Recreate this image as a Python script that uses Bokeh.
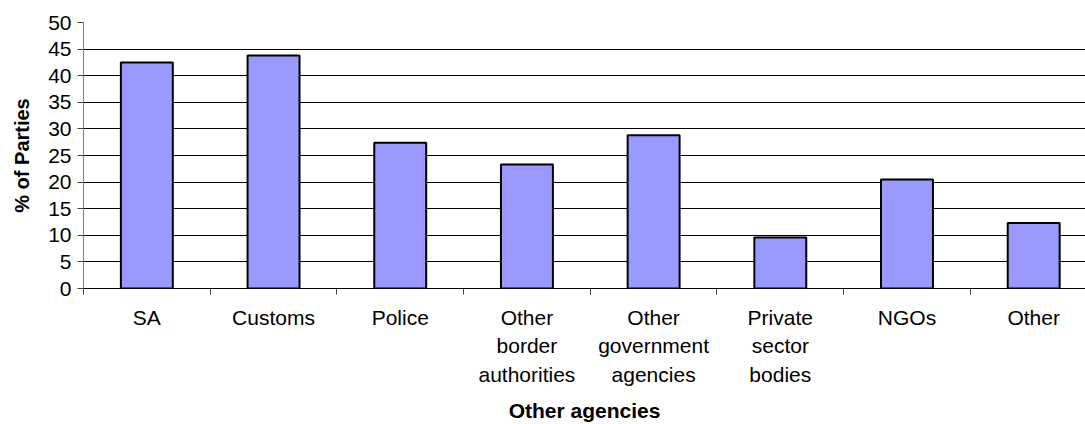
from bokeh.plotting import figure
from bokeh.models import Range1d, FixedTicker
from bokeh.embed import file_html
from bokeh.resources import INLINE

categories = ["SA", "Customs", "Police", "Other\nborder\nauthorities",
              "Other\ngovernment\nagencies", "Private\nsector\nbodies", "NGOs", "Other"]
values = [42.5, 43.8, 27.4, 23.3, 28.8, 9.6, 20.5, 12.3]
y_ticks = [0, 5, 10, 15, 20, 25, 30, 35, 40, 45, 50]
x_title = "Other agencies"
y_title = "% of Parties"

n = len(categories)
centers = [i + 0.5 for i in range(n)]
bounds = list(range(n + 1))

FONT = "Liberation Sans"

p = figure(width=1085, height=424, output_backend="svg", toolbar_location=None,
           x_range=Range1d(0, 7.909), y_range=Range1d(0, 50),
           min_border_left=83, min_border_top=22, min_border_bottom=135,
           min_border_right=0)

p.vbar(x=centers, top=values, width=0.41, fill_color="#9999FF",
       line_color="black", line_width=2)

p.outline_line_color = None
p.background_fill_color = "white"
p.border_fill_color = "white"

# grid
p.xgrid.visible = False
p.ygrid.ticker = FixedTicker(ticks=y_ticks)
p.ygrid.grid_line_color = "black"
p.ygrid.grid_line_width = 1

# y axis
ya = p.yaxis[0]
ya.ticker = FixedTicker(ticks=y_ticks)
ya.axis_line_color = "#808080"
ya.axis_line_width = 1
ya.major_tick_out = 6
ya.major_tick_in = 0
ya.major_tick_line_color = "#404040"
ya.minor_tick_out = 0
ya.minor_tick_in = 0
ya.major_label_text_font = FONT
ya.major_label_text_font_size = "21px"
ya.major_label_text_color = "black"
ya.major_label_standoff = 6
ya.axis_label = y_title
ya.axis_label_text_font = FONT
ya.axis_label_text_font_size = "20px"
ya.axis_label_text_font_style = "bold"
ya.axis_label_text_color = "black"
ya.axis_label_standoff = 12

# x axis
xa = p.xaxis[0]
xa.ticker = FixedTicker(ticks=centers, minor_ticks=bounds)
xa.major_label_overrides = {c: lab for c, lab in zip(centers, categories)}
xa.axis_line_color = "black"
xa.axis_line_width = 1
xa.major_tick_out = 0
xa.major_tick_in = 0
xa.minor_tick_out = 6
xa.minor_tick_in = 0
xa.minor_tick_line_color = "#404040"
xa.major_label_text_font = FONT
xa.major_label_text_font_size = "21px"
xa.major_label_text_color = "black"
xa.major_label_text_line_height = 1.245
xa.major_label_standoff = 11
xa.axis_label = x_title
xa.axis_label_text_font = FONT
xa.axis_label_text_font_size = "21px"
xa.axis_label_text_font_style = "bold"
xa.axis_label_text_color = "black"
xa.axis_label_standoff = 10

open("out.html", "w").write(file_html(p, INLINE))
